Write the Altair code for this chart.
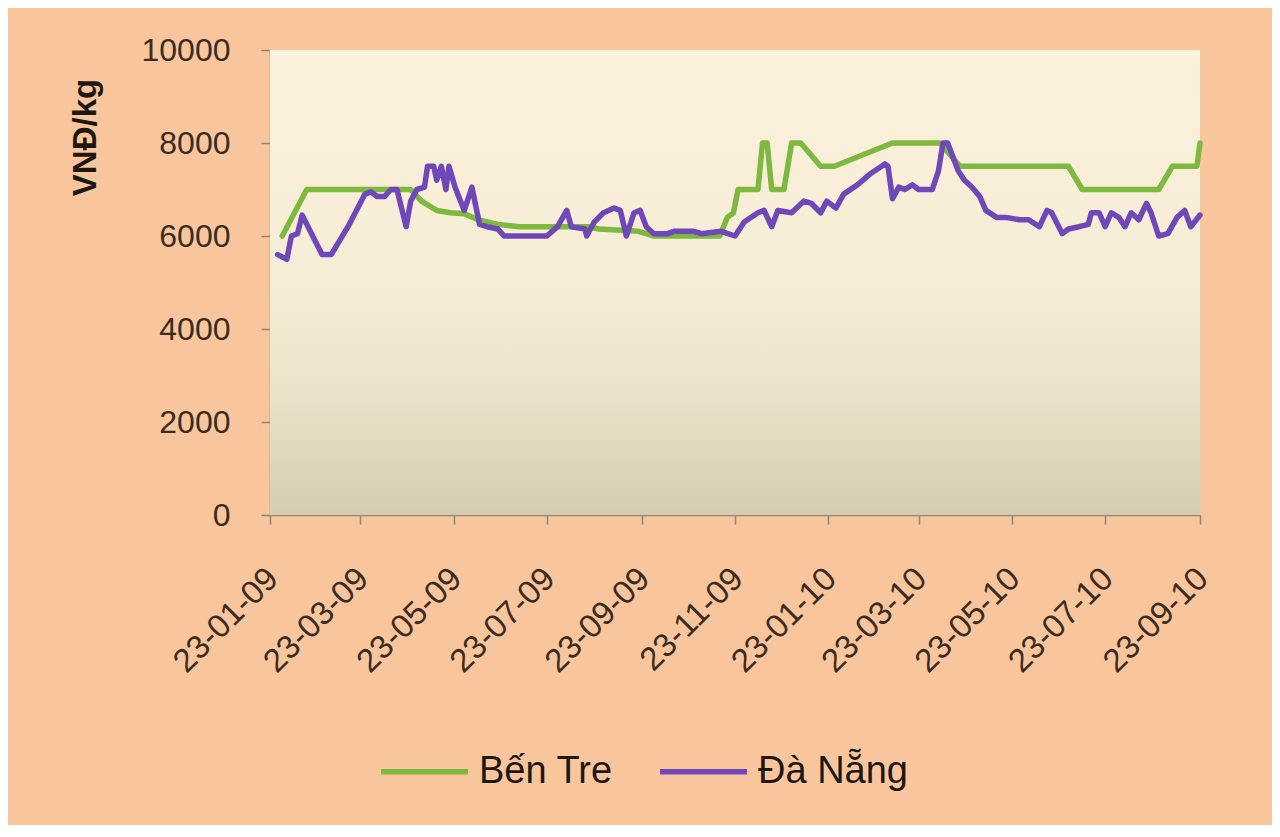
import altair as alt
import pandas as pd

# ---- data ----
series_names = ["Bến Tre", "Đà Nẵng"]
series_colors = ["#7DB93F", "#6F47B8"]

ben_tre_dates = [
    "2009-01-31", "2009-02-16", "2009-04-25", "2009-05-02", "2009-05-12", "2009-05-21",
    "2009-05-30", "2009-06-08", "2009-06-21", "2009-07-05", "2009-08-19", "2009-08-26",
    "2009-09-21", "2009-10-01", "2009-11-13", "2009-11-18", "2009-11-22", "2009-11-25",
    "2009-12-08", "2009-12-11", "2009-12-14", "2009-12-17", "2009-12-25", "2009-12-30",
    "2010-01-05", "2010-01-18", "2010-01-27", "2010-02-11", "2010-03-06", "2010-04-06",
    "2010-04-19", "2010-06-29", "2010-07-08", "2010-08-27", "2010-09-05", "2010-09-21",
    "2010-09-23",
]
ben_tre_values = [
    6000, 7000, 7000, 6750, 6550, 6500,
    6480, 6350, 6250, 6200, 6200, 6150,
    6100, 6000, 6000, 6400, 6500, 7000,
    7000, 8000, 8000, 7000, 7000, 8000,
    8000, 7500, 7500, 7700, 8000, 8000,
    7500, 7500, 7000, 7000, 7500, 7500,
    8000,
]

da_nang_dates = [
    "2009-01-28", "2009-02-03", "2009-02-06", "2009-02-10", "2009-02-13", "2009-02-26",
    "2009-03-04", "2009-03-15", "2009-03-26", "2009-03-30", "2009-04-03", "2009-04-08",
    "2009-04-12", "2009-04-16", "2009-04-22", "2009-04-25", "2009-04-29", "2009-05-04",
    "2009-05-06", "2009-05-10", "2009-05-12", "2009-05-15", "2009-05-18", "2009-05-20",
    "2009-05-24", "2009-05-30", "2009-06-04", "2009-06-09", "2009-06-14", "2009-06-21",
    "2009-06-25", "2009-07-10", "2009-07-23", "2009-07-30", "2009-08-05", "2009-08-08",
    "2009-08-17", "2009-08-18", "2009-08-23", "2009-08-29", "2009-09-05", "2009-09-09",
    "2009-09-13", "2009-09-18", "2009-09-22", "2009-09-26", "2009-10-01", "2009-10-10",
    "2009-10-14", "2009-10-27", "2009-11-01", "2009-11-14", "2009-11-23", "2009-11-29",
    "2009-12-08", "2009-12-12", "2009-12-17", "2009-12-21", "2009-12-30", "2010-01-07",
    "2010-01-12", "2010-01-18", "2010-01-22", "2010-01-28", "2010-02-02", "2010-02-11",
    "2010-02-20", "2010-03-01", "2010-03-03", "2010-03-06", "2010-03-10", "2010-03-14",
    "2010-03-19", "2010-03-23", "2010-04-01", "2010-04-05", "2010-04-08", "2010-04-11",
    "2010-04-18", "2010-04-22", "2010-04-27", "2010-05-02", "2010-05-06", "2010-05-13",
    "2010-05-19", "2010-05-28", "2010-06-03", "2010-06-10", "2010-06-15", "2010-06-18",
    "2010-06-25", "2010-06-29", "2010-07-06", "2010-07-12", "2010-07-14", "2010-07-19",
    "2010-07-23", "2010-07-27", "2010-08-01", "2010-08-05", "2010-08-09", "2010-08-14",
    "2010-08-19", "2010-08-22", "2010-08-27", "2010-09-02", "2010-09-08", "2010-09-13",
    "2010-09-17", "2010-09-23",
]
da_nang_values = [
    5600, 5500, 6000, 6050, 6450, 5600, 5600, 6200, 6900, 6950,
    6850, 6850, 7000, 7000, 6200, 6750, 7000, 7050, 7500, 7500,
    7200, 7500, 7000, 7500, 7050, 6550, 7050, 6250, 6200, 6150,
    6000, 6000, 6000, 6200, 6550, 6200, 6150, 6000, 6300, 6500,
    6600, 6550, 6000, 6500, 6550, 6200, 6050, 6050, 6100, 6100,
    6050, 6100, 6000, 6300, 6500, 6550, 6200, 6550, 6500, 6750,
    6700, 6500, 6750, 6600, 6900, 7100, 7350, 7550, 7500, 6800,
    7050, 7000, 7100, 7000, 7000, 7400, 8000, 8000, 7400, 7200,
    7050, 6850, 6550, 6400, 6400, 6350, 6350, 6200, 6550, 6500,
    6050, 6150, 6200, 6250, 6500, 6500, 6200, 6500, 6400, 6200,
    6500, 6350, 6700, 6500, 6000, 6050, 6400, 6550, 6200, 6450,
]

x_tick_dates = [
    (2009, 1), (2009, 3), (2009, 5), (2009, 7), (2009, 9), (2009, 11),
    (2010, 1), (2010, 3), (2010, 5), (2010, 7), (2010, 9),
]
y_ticks = [0, 2000, 4000, 6000, 8000, 10000]
y_title = "VNĐ/kg"

# ---- build table ----
df = pd.DataFrame({
    "date": ben_tre_dates + da_nang_dates,
    "price": ben_tre_values + da_nang_values,
    "series": [series_names[0]] * len(ben_tre_dates) + [series_names[1]] * len(da_nang_dates),
})

W, H = 930, 465
FONT = "Liberation Sans"
TEXT = "#3B2C1F"
AXISC = "#8E8678"

gradient = alt.LinearGradient(
    gradient="linear", x1=0, x2=0, y1=0, y2=1,
    stops=[
        alt.GradientStop(color="#FCF1DC", offset=0),
        alt.GradientStop(color="#F6EDD6", offset=0.5),
        alt.GradientStop(color="#EAE2C8", offset=0.75),
        alt.GradientStop(color="#D6CCB1", offset=1),
    ],
)

bg = alt.Chart(pd.DataFrame({"k": [0]})).mark_rect(fill=gradient).encode(
    x=alt.value(0), x2=alt.value(W), y=alt.value(0), y2=alt.value(H)
)

xvals = [alt.DateTime(year=y, month=m, date=23, utc=True) for y, m in x_tick_dates]

lines = alt.Chart(df).mark_line(strokeWidth=5.5, strokeJoin="round", strokeCap="round").encode(
    x=alt.X(
        "date:T",
        scale=alt.Scale(type="utc", domain=[xvals[0], xvals[-1]], nice=False),
        axis=alt.Axis(
            values=xvals, format="%d-%m-%y", labelAngle=-45, title=None, grid=False,
            labelFontSize=33, labelColor=TEXT, labelFont=FONT, labelPadding=38,
            labelOffset=-9,
            tickSize=9, tickColor=AXISC, domainColor=AXISC, domainWidth=1.5, tickWidth=1.5,
            labelOverlap=False, labelFlush=False,
        ),
    ),
    y=alt.Y(
        "price:Q",
        scale=alt.Scale(domain=[0, 10000], nice=False),
        axis=alt.Axis(
            values=y_ticks, format="d", title=y_title, grid=False,
            labelFontSize=32, labelColor=TEXT, labelFont=FONT, labelPadding=31,
            tickSize=9, tickColor=AXISC, domainColor=AXISC, domainWidth=1.5, tickWidth=1.5,
            titleFont=FONT, titleFontSize=33, titleFontWeight="bold", titleColor="#1E1711",
            titleX=-185, titleY=87, titleAngle=270, titleAlign="center", titleBaseline="middle",
        ),
    ),
    color=alt.Color(
        "series:N",
        scale=alt.Scale(domain=series_names, range=series_colors),
        legend=alt.Legend(
            title=None, orient="none", legendX=108, legendY=675, direction="horizontal",
            symbolType="stroke", symbolSize=7569, symbolStrokeWidth=5.5,
            labelFontSize=38, labelFont=FONT, labelColor="#1E1711", labelOffset=8,
            columnPadding=36, padding=0,
        ),
    ),
)

chart = alt.layer(bg, lines).properties(
    width=W, height=H,
    background="#F9C59C",
    padding={"left": 262, "top": 42, "right": 72, "bottom": 310},
    autosize=alt.AutoSizeParams(type="none"),
).configure_view(stroke=None)

chart.save("out.html", embed_options={"renderer": "svg", "actions": False})
